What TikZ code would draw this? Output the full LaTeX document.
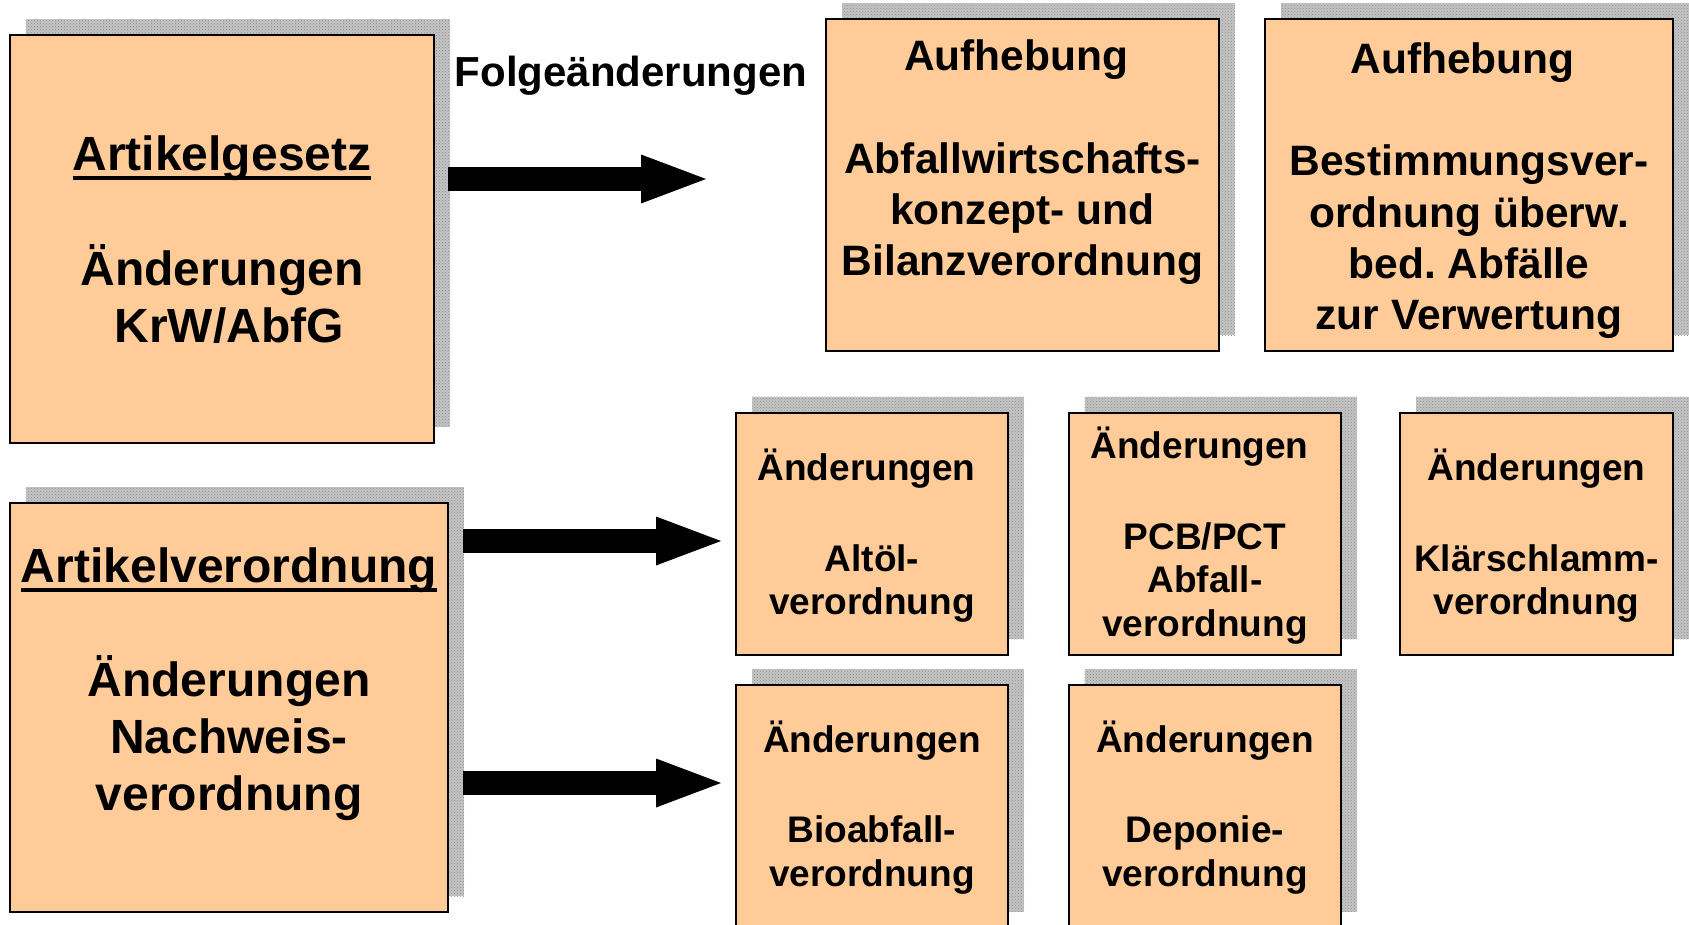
\documentclass[tikz,border=0pt]{standalone}
\usepackage{fontspec}
\setmainfont{Liberation Sans}
\usetikzlibrary{arrows.meta,shadows,patterns}
\definecolor{peach}{HTML}{FFCC99}
\definecolor{shadowgray}{RGB}{196,196,196}
\definecolor{speckle}{RGB}{140,140,140}
\newsavebox{\ulbox}
\newcommand{\myul}[1]{\sbox{\ulbox}{#1}\rlap{\rule[-0.21em]{\wd\ulbox}{0.08em}}\usebox{\ulbox}}
\newcommand{\topstrut}{\rule{0pt}{1.1em}}
\setlength{\lineskiplimit}{-100pt}
\frenchspacing
\begin{document}
\begin{tikzpicture}[x=1pt,y=-1pt,
  box/.style={draw=black, line width=2pt, fill=peach, rectangle, inner sep=0pt, outer sep=0pt,
    anchor=north west, drop shadow={shadow xshift=16pt, shadow yshift=16pt, fill=shadowgray, opacity=1,
      postaction={pattern=crosshatch dots, pattern color=speckle}}},
  big/.style={font=\fontsize{48}{57}\selectfont\bfseries},
  mid/.style={font=\fontsize{42.5}{51.3}\selectfont\bfseries},
  small/.style={font=\fontsize{37}{43.5}\selectfont\bfseries},
  txt/.style={anchor=north, inner sep=0pt, align=center},
  blockarrow/.style={line width=24pt, -{Triangle[length=65pt,width=49pt,line width=0pt]}}
]
\useasboundingbox[fill=white] (0,0) rectangle (1689,925);

% boxes
\node[box, minimum width=424.3pt, minimum height=407.5pt] (A) at (9.7,35.5) {};
\node[box, minimum width=438.3pt, minimum height=409pt]   (B) at (9.7,503) {};
\node[box, minimum width=393pt,   minimum height=331.6pt] (C) at (826,19.4) {};
\node[box, minimum width=408pt,   minimum height=331.6pt] (D) at (1265,19.4) {};
\node[box, minimum width=272pt,   minimum height=242.5pt] (E) at (736,412.5) {};
\node[box, minimum width=272.5pt, minimum height=242.5pt] (F) at (1068.5,412.5) {};
\node[box, minimum width=273pt,   minimum height=242.5pt] (G) at (1400,412.5) {};
\node[box, minimum width=272pt,   minimum height=242.5pt] (H) at (736,685) {};
\node[box, minimum width=272.5pt, minimum height=242.5pt] (I) at (1068.5,685) {};

% texts
\node[txt, big] (At) at (222,117.2) {\topstrut\myul{Artikelgesetz}\\[58pt] Änderungen\\ \hspace*{0.3em}KrW/AbfG};
\node[txt, big] (Bt) at (229,529.2) {\topstrut\myul{Artikelverordnung}\\[57.5pt] Änderungen\\ Nachweis-\\ verordnung};
\node[txt, mid] (Ct) at (1022.5,23.25) {\topstrut Aufhebung\kern0.3em\\[51.7pt] Abfallwirtschafts-\\ konzept- und\\ Bilanzverordnung};
\node[txt, mid] (Dt) at (1469,26.25) {\topstrut Aufhebung\kern0.3em\\[51.2pt] Bestimmungsver-\\ ordnung überw.\\ bed. Abfälle\\ zur Verwertung};
\node[txt, small] (Et) at (872,439.3) {\topstrut Änderungen\kern0.3em\\[47.5pt] Altöl-\\ verordnung};
\node[txt, small] (Ft) at (1205,417.3) {\topstrut Änderungen\kern0.3em\\[47.5pt] PCB/PCT\\ Abfall-\\ verordnung};
\node[txt, small] (Gt) at (1536.5,439.3) {\topstrut Änderungen\\[47.5pt] Klärschlamm-\\ verordnung};
\node[txt, small] (Ht) at (872,712) {\topstrut Änderungen\\[46.5pt] Bioabfall-\\ verordnung};
\node[txt, small] (It) at (1205,712) {\topstrut Änderungen\\[46.5pt] Deponie-\\ verordnung};

\node[anchor=base, inner sep=0pt, font=\fontsize{42}{50}\selectfont\bfseries] (folge) at (631,87) {Folgeänderungen};

% arrows
\coordinate (a1s) at (448,179);
\coordinate (a1e) at (706,179);
\coordinate (a2s) at (463,541);
\coordinate (a2e) at (721,541);
\coordinate (a3s) at (463,783);
\coordinate (a3e) at (721,783);
\draw[blockarrow] (a1s) -- (a1e);
\draw[blockarrow] (a2s) -- (a2e);
\draw[blockarrow] (a3s) -- (a3e);
\end{tikzpicture}
\end{document}
